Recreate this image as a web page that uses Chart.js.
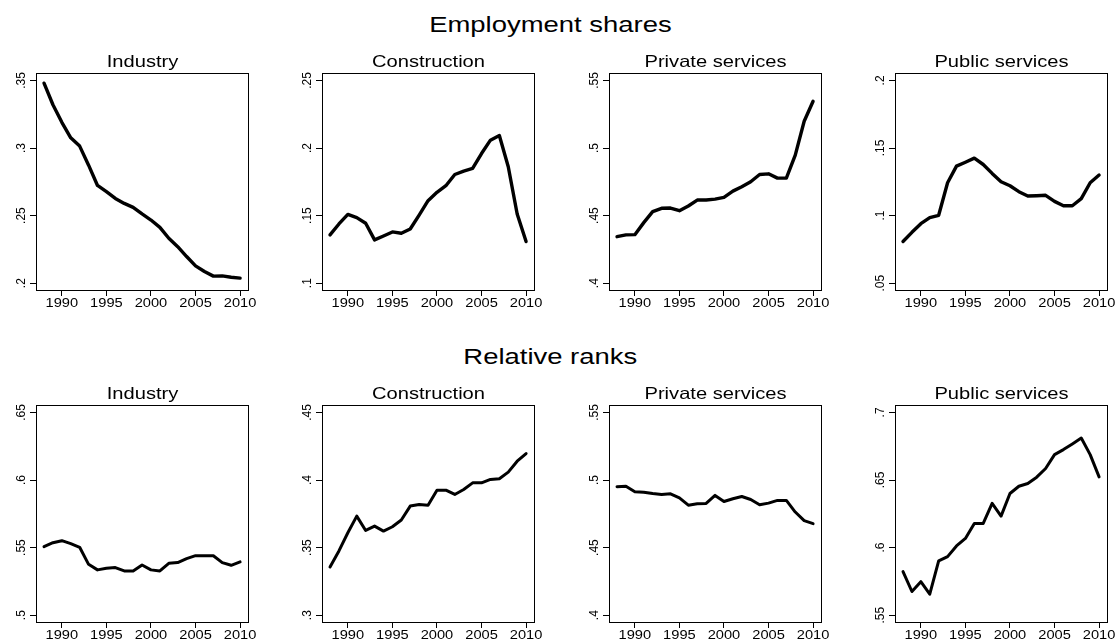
<!DOCTYPE html>
<html>
<head>
<meta charset="utf-8">
<script src="https://cdn.jsdelivr.net/npm/chart.js@4.4.0/dist/chart.umd.min.js"></script>
<style>
  html, body { margin: 0; padding: 0; background: #fff; overflow: hidden; }
  #wrap { position: relative; width: 1115px; height: 640px; overflow: hidden; }
  .panel { position: absolute; }
  .head {
    position: absolute; left: 0; width: 1100px; text-align: center;
    font-family: "Liberation Sans", Arial, sans-serif; font-size: 22.5px; line-height: 26px; color: #000;
  }
  .head span { display: inline-block; transform: scaleX(1.22); transform-origin: 50% 50%; }
</style>
</head>
<body>
<div id="wrap">
  <div class="head" id="headTop" style="top:12px"><span></span></div>
  <div class="head" id="headBottom" style="top:344px"><span></span></div>
</div>
<script>
// ---- data ---------------------------------------------------------------
const years = [1988, 1989, 1990, 1991, 1992, 1993, 1994, 1995, 1996, 1997, 1998, 1999,
               2000, 2001, 2002, 2003, 2004, 2005, 2006, 2007, 2008, 2009, 2010];
const yearTicks = [1990, 1995, 2000, 2005, 2010];
const sectorNames = ['Industry', 'Construction', 'Private services', 'Public services'];
const rowTitles = ['Employment shares', 'Relative ranks'];

// Employment shares by sector
const shareIndustry = [0.348, 0.332, 0.319, 0.3075, 0.3014, 0.2873, 0.2723, 0.2677, 0.2627, 0.259, 0.2561, 0.2512,
                       0.2467, 0.2413, 0.2332, 0.227, 0.2197, 0.2128, 0.2086, 0.2052, 0.2054, 0.2044, 0.2037];
const shareConstruction = [0.1357, 0.1438, 0.1509, 0.1485, 0.1443, 0.132, 0.1349, 0.1379, 0.1369, 0.1401, 0.1504, 0.161,
                           0.1672, 0.1721, 0.1804, 0.1829, 0.1849, 0.1959, 0.2058, 0.2092, 0.1861, 0.1512, 0.1308];
const sharePrivate = [0.4344, 0.4357, 0.4359, 0.4448, 0.4529, 0.4554, 0.4556, 0.4536, 0.4571, 0.4615, 0.4615, 0.4622,
                      0.4635, 0.4681, 0.4713, 0.475, 0.4804, 0.4809, 0.4777, 0.4777, 0.4947, 0.5198, 0.5346];
const sharePublic = [0.0808, 0.0876, 0.094, 0.0985, 0.1002, 0.1243, 0.1366, 0.1395, 0.1425, 0.1378, 0.1312, 0.125,
                     0.1221, 0.1177, 0.1145, 0.1147, 0.115, 0.1105, 0.1073, 0.1073, 0.1125, 0.1243, 0.13];

// Relative ranks by sector
const rankIndustry = [0.5507, 0.5536, 0.5551, 0.5529, 0.5502, 0.5376, 0.5335, 0.5347, 0.5352, 0.5327, 0.5327, 0.5371,
                      0.5335, 0.5327, 0.5384, 0.5389, 0.5418, 0.544, 0.544, 0.544, 0.5389, 0.5369, 0.5394];
const rankConstruction = [0.3357, 0.3475, 0.361, 0.3733, 0.3627, 0.3659, 0.3622, 0.3654, 0.3704, 0.3807, 0.3819, 0.3814,
                          0.3925, 0.3925, 0.3893, 0.393, 0.3979, 0.3979, 0.4004, 0.4009, 0.4058, 0.4139, 0.4196];
const rankPrivate = [0.495, 0.4954, 0.4913, 0.491, 0.49, 0.4893, 0.4898, 0.4868, 0.4814, 0.4824, 0.4827, 0.4886,
                     0.4841, 0.4861, 0.4878, 0.4856, 0.4817, 0.4829, 0.4849, 0.4849, 0.4763, 0.4699, 0.4677];
const rankPublic = [0.5822, 0.5675, 0.5748, 0.5655, 0.5901, 0.5933, 0.6012, 0.6068, 0.6179, 0.6179, 0.6327, 0.6233,
                    0.64, 0.6454, 0.6474, 0.6521, 0.6585, 0.6688, 0.6725, 0.6767, 0.6811, 0.6688, 0.6523];

// y-axis tick values for each panel
const shareTicksIndustry = [0.2, 0.25, 0.3, 0.35];
const shareTicksConstruction = [0.1, 0.15, 0.2, 0.25];
const shareTicksPrivate = [0.4, 0.45, 0.5, 0.55];
const shareTicksPublic = [0.05, 0.1, 0.15, 0.2];
const rankTicksIndustry = [0.5, 0.55, 0.6, 0.65];
const rankTicksConstruction = [0.3, 0.35, 0.4, 0.45];
const rankTicksPrivate = [0.4, 0.45, 0.5, 0.55];
const rankTicksPublic = [0.55, 0.6, 0.65, 0.7];

// ---- layout -------------------------------------------------------------
const plotLeft = [36, 322, 609, 895];   // left edge of each plot box
const plotTop = [73, 405];              // top edge of each row's plot box
const plotW = 213, plotH = 218;
const axisW = 36, titleH = 31, xAxisH = 30, padRight = 20;
const stretch = 1.22;                   // wide Helvetica-like lettering
const sansFont = '"Liberation Sans", Arial, sans-serif';

document.querySelector('#headTop span').textContent = rowTitles[0];
document.querySelector('#headBottom span').textContent = rowTitles[1];

const panels = [
  { row: 0, col: 0, values: shareIndustry, ticks: shareTicksIndustry },
  { row: 0, col: 1, values: shareConstruction, ticks: shareTicksConstruction },
  { row: 0, col: 2, values: sharePrivate, ticks: shareTicksPrivate },
  { row: 0, col: 3, values: sharePublic, ticks: shareTicksPublic },
  { row: 1, col: 0, values: rankIndustry, ticks: rankTicksIndustry },
  { row: 1, col: 1, values: rankConstruction, ticks: rankTicksConstruction },
  { row: 1, col: 2, values: rankPrivate, ticks: rankTicksPrivate },
  { row: 1, col: 3, values: rankPublic, ticks: rankTicksPublic }
];

// ".35" style labels, no leading zero
const fmtShare = v => String(+v.toFixed(3)).replace(/^0(?=\.)/, '');

function drawWide(c, text, x, y, font) {
  c.save();
  c.font = font;
  c.textAlign = 'center';
  c.textBaseline = 'alphabetic';
  c.translate(x, y);
  c.scale(stretch, 1);
  c.fillText(text, 0, 0);
  c.restore();
}

// Frame around the plot region, panel title, and tick labels
const framePlugin = {
  id: 'frame',
  afterDatasetsDraw(chart, args, opts) {
    const a = chart.chartArea, c = chart.ctx;
    c.save();
    c.strokeStyle = '#000';
    c.lineWidth = 1;
    c.strokeRect(a.left + 0.5, a.top + 0.5, a.right - a.left - 1, a.bottom - a.top - 1);
    c.fillStyle = '#000';

    // panel title
    drawWide(c, opts.title, (a.left + a.right) / 2, a.top - 6.5, '16.5px ' + sansFont);

    // x tick labels
    const xs = chart.scales.x;
    xs.ticks.forEach(t => {
      drawWide(c, String(t.value), xs.getPixelForValue(t.value), a.bottom + 15.5, '12px ' + sansFont);
    });

    // y tick labels, rotated
    const ys = chart.scales.y;
    c.font = '12px ' + sansFont;
    c.textAlign = 'center';
    c.textBaseline = 'alphabetic';
    ys.ticks.forEach(t => {
      const py = ys.getPixelForValue(t.value);
      c.save();
      c.translate(a.left - 11, py);
      c.rotate(-Math.PI / 2);
      c.fillText(fmtShare(t.value), 0, 0);
      c.restore();
    });
    c.restore();
  }
};

const wrap = document.getElementById('wrap');

panels.forEach(p => {
  const canvas = document.createElement('canvas');
  const cw = axisW + plotW + padRight;
  const ch = titleH + plotH + xAxisH;
  canvas.width = cw;
  canvas.height = ch;
  canvas.className = 'panel';
  canvas.style.left = (plotLeft[p.col] - axisW) + 'px';
  canvas.style.top = (plotTop[p.row] - titleH) + 'px';
  canvas.style.width = cw + 'px';
  canvas.style.height = ch + 'px';
  wrap.appendChild(canvas);

  const yMin = p.ticks[0] - 0.0058;
  const yMax = p.ticks[p.ticks.length - 1] + 0.0055;

  new Chart(canvas.getContext('2d'), {
    type: 'line',
    data: {
      datasets: [{
        data: years.map((yr, i) => ({ x: yr, y: p.values[i] })),
        borderColor: '#000',
        borderWidth: p.row === 0 ? 3.4 : 3,
        pointRadius: 0,
        tension: 0,
        borderJoinStyle: 'round',
        borderCapStyle: 'round'
      }]
    },
    options: {
      responsive: false,
      animation: false,
      devicePixelRatio: 1,
      layout: { padding: { left: 0, right: padRight, top: titleH, bottom: 0 } },
      plugins: {
        legend: { display: false },
        tooltip: { enabled: false },
        title: { display: false },
        frame: { title: sectorNames[p.col] }
      },
      scales: {
        x: {
          type: 'linear',
          min: 1987.1,
          max: 2011,
          afterBuildTicks: s => { s.ticks = yearTicks.map(v => ({ value: v })); },
          afterFit: s => { s.height = xAxisH; },
          grid: { display: true, drawOnChartArea: false, drawTicks: true, tickLength: 5, color: '#000', lineWidth: 1 },
          border: { display: false },
          ticks: { display: false }
        },
        y: {
          type: 'linear',
          min: yMin,
          max: yMax,
          afterBuildTicks: s => { s.ticks = p.ticks.map(v => ({ value: v })); },
          afterFit: s => { s.width = axisW; },
          grid: { display: true, drawOnChartArea: false, drawTicks: true, tickLength: 6, color: '#000', lineWidth: 1 },
          border: { display: false },
          ticks: { display: false }
        }
      }
    },
    plugins: [framePlugin]
  });
});
</script>
</body>
</html>
